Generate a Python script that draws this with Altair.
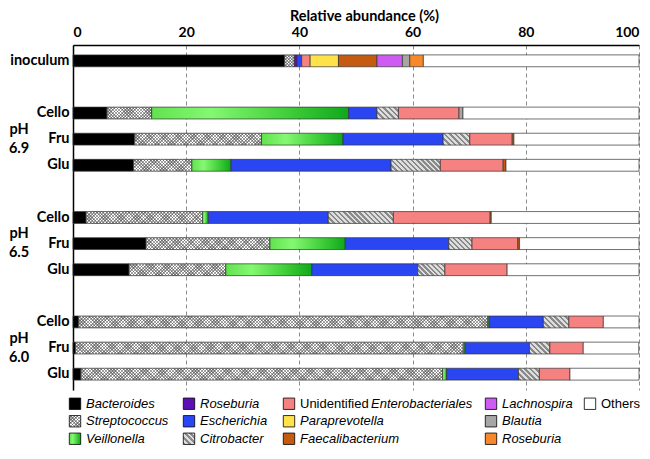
import altair as alt
import pandas as pd

# %% values (relative abundance, %), top bar to bottom bar
sample = ["inoculum", "Cello", "Fru", "Glu", "Cello", "Fru", "Glu", "Cello", "Fru", "Glu"]
ph = ["", "6.9", "6.9", "6.9", "6.5", "6.5", "6.5", "6.0", "6.0", "6.0"]

bacteroides = [37.4, 6.0, 10.9, 10.7, 2.3, 12.9, 9.9, 1.0, 0.45, 1.4]
streptococcus = [1.7, 7.9, 22.4, 10.3, 20.6, 21.9, 17.1, 72.3, 68.5, 63.9]
veillonella = [0, 34.8, 14.4, 6.9, 1.0, 13.3, 15.2, 0.2, 0.3, 0.7]
roseburia = [0.5, 0, 0, 0, 0, 0, 0, 0, 0, 0]
escherichia = [0.8, 5.0, 17.7, 28.3, 21.2, 18.3, 18.7, 9.6, 11.4, 12.7]
citrobacter = [0, 3.8, 4.7, 8.7, 11.5, 4.1, 4.8, 4.5, 3.6, 3.7]
enterobacteriales = [1.5, 10.7, 7.5, 11.1, 17.1, 8.1, 11.0, 6.1, 5.9, 5.4]
paraprevotella = [5.0, 0, 0, 0, 0, 0, 0, 0, 0, 0]
faecalibacterium = [6.8, 0, 0.3, 0.5, 0.2, 0.3, 0, 0, 0, 0]
lachnospira = [4.5, 0, 0, 0, 0, 0, 0, 0, 0, 0]
blautia = [1.3, 0.7, 0, 0, 0, 0, 0, 0, 0, 0]
roseburia_2 = [2.4, 0, 0, 0, 0, 0, 0, 0, 0, 0]
others = [38.1, 31.1, 22.1, 23.5, 26.1, 21.1, 23.3, 6.3, 9.8, 12.2]

taxa = ["Bacteroides", "Streptococcus", "Veillonella", "Roseburia", "Escherichia",
        "Citrobacter", "Enterobacteriales", "Paraprevotella", "Faecalibacterium",
        "Lachnospira", "Blautia", "Roseburia_2", "Others"]
values = [bacteroides, streptococcus, veillonella, roseburia, escherichia, citrobacter,
          enterobacteriales, paraprevotella, faecalibacterium, lachnospira, blautia,
          roseburia_2, others]

# legend text: italic genus part and plain part
legend_italic = ["Bacteroides", "Streptococcus", "Veillonella", "Roseburia", "Escherichia",
                 "Citrobacter", "Enterobacteriales", "Paraprevotella", "Faecalibacterium",
                 "Lachnospira", "Blautia", "Roseburia", ""]
legend_plain = ["", "", "", "", "", "", "Unidentified", "", "", "", "", "", "Others"]

# %% styles / layout
colors = {
    "Bacteroides": "#000000", "Roseburia": "#5a10b4", "Escherichia": "#2a46f2",
    "Enterobacteriales": "#f58181", "Paraprevotella": "#ffe14a",
    "Faecalibacterium": "#c55a11", "Lachnospira": "#cf5cf2", "Blautia": "#a6a6a6",
    "Roseburia_2": "#f7892b", "Others": "#ffffff",
}
veil_grad = {"gradient": "linear", "x1": 0, "y1": 0, "x2": 1, "y2": 0,
             "stops": [{"offset": 0, "color": "#62e24f"}, {"offset": 0.3, "color": "#84f872"},
                       {"offset": 0.7, "color": "#3fcd38"}, {"offset": 1, "color": "#0fa81c"}]}

PLOT_W, PLOT_H = 566, 345
PAD_IN, PAD_OUT = 0.546, 0.379
rows = ["inoculum", "_1", "Cello 6.9", "Fru 6.9", "Glu 6.9", "_2", "Cello 6.5", "Fru 6.5",
        "Glu 6.5", "_3", "Cello 6.0", "Fru 6.0", "Glu 6.0"]
step = PLOT_H / (len(rows) - PAD_IN + 2 * PAD_OUT)
BAR_H = step * (1 - PAD_IN)


def stripes(w, h, period, lines, c0, c1):
    # 45 degree stripes as a bbox-relative linear gradient
    n = max(1, int(round((w + h) / period)))
    a = (w + h) * w / (w * w + h * h)
    if lines == "back":
        x1, y1, x2, y2 = 0, 1, a, 1 - a * h / w
    else:
        x1, y1, x2, y2 = 0, 0, a, a * h / w
    stops = []
    for k in range(n):
        stops += [{"offset": round(k / n, 5), "color": c0},
                  {"offset": round((k + 0.5) / n, 5), "color": c0},
                  {"offset": round((k + 0.5) / n, 5), "color": c1},
                  {"offset": round((k + 1) / n, 5), "color": c1}]
    return {"gradient": "linear", "x1": x1, "y1": y1, "x2": x2, "y2": y2, "stops": stops}


def fill_for(taxon, w, h):
    if taxon == "Streptococcus":
        return stripes(w, h, 3.2, "back", "#ffffff", "#a3a3a3")
    if taxon == "Citrobacter":
        return stripes(w, h, 5.2, "back", "#8a8a8a", "#dedede")
    if taxon == "Veillonella":
        return dict(veil_grad)
    return colors[taxon]


def checker_top(w, h):
    return stripes(w, h, 3.2, "fwd", "rgba(0,0,0,0)", "rgba(50,50,50,0.45)")


segs = []
for i, (s, p) in enumerate(zip(sample, ph)):
    key = (s + " " + p).strip()
    start = 0.0
    for t, vals in zip(taxa, values):
        v = vals[i]
        if v <= 0:
            continue
        w = v / 100 * PLOT_W
        rec = {"row": key, "taxon": t, "start": start, "end": start + v,
               "fill": fill_for(t, w, BAR_H)}
        if t == "Streptococcus":
            rec["fill2"] = checker_top(w, BAR_H)
        segs.append(rec)
        start += v
seg_data = alt.Data(values=segs)

x_enc = alt.X(
    "start:Q",
    scale=alt.Scale(domain=[0, 100], nice=False),
    axis=alt.Axis(orient="top", title="Relative abundance (%)", values=[0, 20, 40, 60, 80, 100],
                  labelFlush=True, ticks=False, domainColor="black", domainWidth=1.5,
                  grid=True, gridDash=[4, 3], gridColor="#8c8c8c", gridWidth=1,
                  labelFont="Lato", labelFontWeight="bold", labelFontSize=14,
                  labelColor="black", labelPadding=6, titleFont="Lato",
                  titleFontWeight="bold", titleFontSize=14.5, titleColor="black",
                  titlePadding=2, titleX=PLOT_W / 2 + 8),
)
y_enc = alt.Y(
    "row:N",
    scale=alt.Scale(domain=rows, paddingInner=PAD_IN, paddingOuter=PAD_OUT),
    axis=alt.Axis(title=None, ticks=False, domainColor="black", domainWidth=1.5,
                  labelExpr="indexof(datum.value, '_') == 0 ? '' : split(datum.value, ' ')[0]",
                  labelFont="Lato", labelFontWeight="bold", labelFontSize=14.5,
                  labelColor="black", labelPadding=4),
)

bars = alt.Chart(seg_data).mark_bar(stroke="#333333", strokeWidth=0.7).encode(
    x=x_enc, x2="end:Q", y=y_enc,
    fill=alt.Fill("fill:N", scale=None, legend=None),
)
strep_over = (
    alt.Chart(seg_data)
    .transform_filter("datum.taxon == 'Streptococcus'")
    .mark_bar(strokeWidth=0)
    .encode(x=x_enc, x2="end:Q", y=y_enc, fill=alt.Fill("fill2:N", scale=None, legend=None))
)

ph_df = pd.DataFrame({"row": ["Fru 6.9", "Fru 6.5", "Fru 6.0"],
                      "label": ["pH\n6.9", "pH\n6.5", "pH\n6.0"]})
ph_text = alt.Chart(ph_df).mark_text(
    lineBreak="\n", lineHeight=19, dy=-9.5, font="Lato", fontWeight="bold", fontSize=14.5,
    align="center", baseline="middle", color="black",
).encode(x=alt.value(-54), y=y_enc, text="label:N")

main = alt.layer(bars, strep_over, ph_text).properties(width=PLOT_W, height=PLOT_H)

# %% hand-made legend, filled column by column (3 rows)
LEG_H = 52.5
col_center = [2, 116, 216, 418, 517]
SW = 11.4
leg = []
for idx, t in enumerate(taxa):
    col, r = (idx // 3, idx % 3) if idx < 12 else (4, 0)
    cx = col_center[col]
    plain_w = 71 if legend_plain[idx] and legend_italic[idx] else 0
    f = fill_for(t, SW, SW)
    leg.append({"cx": cx, "lrow": r, "fill": f,
                "fill2": checker_top(SW, SW) if t == "Streptococcus" else "rgba(0,0,0,0)",
                "ital": legend_italic[idx], "plain": legend_plain[idx],
                "tx": cx + 11, "ix": cx + 11 + plain_w})
leg_data = alt.Data(values=leg)

lx = alt.Scale(domain=[0, PLOT_W], nice=False)
ly = alt.Y("lrow:O", scale=alt.Scale(domain=[0, 1, 2], type="point", padding=0.5), axis=None)

swatch = alt.Chart(leg_data).mark_square(size=130, stroke="black", strokeWidth=0.8,
                                         opacity=1).encode(
    x=alt.X("cx:Q", scale=lx, axis=None), y=ly,
    fill=alt.Fill("fill:N", scale=None, legend=None),
)
swatch_over = alt.Chart(leg_data).mark_square(size=130, strokeWidth=0, opacity=1).encode(
    x=alt.X("cx:Q", scale=lx, axis=None), y=ly,
    fill=alt.Fill("fill2:N", scale=None, legend=None),
)
ital = alt.Chart(leg_data).transform_filter("datum.ital != ''").mark_text(
    align="left", baseline="middle", font="Liberation Sans", fontStyle="italic",
    fontSize=13, color="black",
).encode(x=alt.X("ix:Q", scale=lx, axis=None), y=ly, text="ital:N")
plain = alt.Chart(leg_data).transform_filter("datum.plain != ''").mark_text(
    align="left", baseline="middle", font="Liberation Sans", fontSize=13, color="black",
).encode(x=alt.X("tx:Q", scale=lx, axis=None), y=ly, text="plain:N")

legend = alt.layer(swatch, swatch_over, ital, plain).properties(width=PLOT_W, height=LEG_H)

chart = (
    alt.vconcat(main, legend, spacing=5)
    .properties(padding=0)
    .configure_view(stroke=None)
)
chart.save("out.html", embed_options={"renderer": "svg", "actions": False})
